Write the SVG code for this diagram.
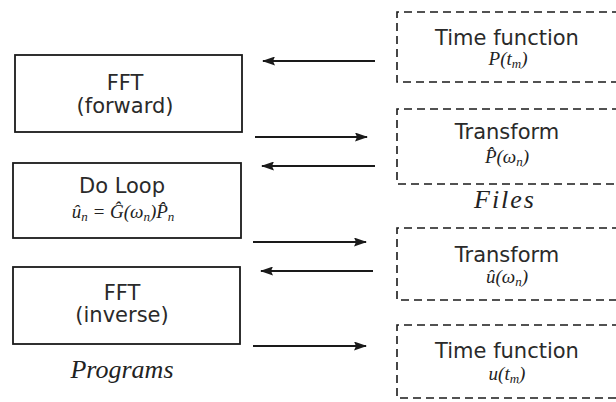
<svg xmlns="http://www.w3.org/2000/svg" width="616" height="402" viewBox="0 0 616 402">
<style>
.prog{fill:#fff;stroke:#1a1a1a;stroke-width:1.8}
.file{fill:none;stroke:#1a1a1a;stroke-width:1.6;stroke-dasharray:8 5}
.sans{font-family:"DejaVu Sans",Verdana,sans-serif;font-size:21px;fill:#2a2a2a;text-anchor:middle}
.math{font-family:"Liberation Serif","Times New Roman",serif;font-style:italic;font-size:19px;fill:#222;text-anchor:middle}
.sub{font-size:13px}
.lbl{font-family:"Liberation Serif","Times New Roman",serif;font-style:italic;font-size:26px;fill:#222;text-anchor:middle}
.arr{stroke:#1a1a1a;stroke-width:2;fill:none;marker-end:url(#ah)}
</style>
<defs>
<marker id="ah" viewBox="0 0 13 9" refX="12" refY="4.5" markerWidth="13" markerHeight="9" markerUnits="userSpaceOnUse" orient="auto">
<path d="M0,0 L13,4.5 L0,9 L2,4.5 Z" fill="#1a1a1a"/>
</marker>
</defs>
<g id="fft-forward">
<rect class="prog" x="15" y="55" width="227" height="77"/>
<text class="sans" x="125" y="90">FFT</text>
<text class="sans" x="125" y="113">(forward)</text>
</g>
<g id="do-loop">
<rect class="prog" x="13" y="163" width="228" height="75"/>
<text class="sans" x="122" y="193">Do Loop</text>
<text class="math" x="123" y="218">û<tspan class="sub" dy="3">n</tspan><tspan dy="-3"> = Ĝ(ω</tspan><tspan class="sub" dy="3">n</tspan><tspan dy="-3">)P̂</tspan><tspan class="sub" dy="3">n</tspan></text>
</g>
<g id="fft-inverse">
<rect class="prog" x="13" y="267" width="227" height="77"/>
<text class="sans" x="122" y="300">FFT</text>
<text class="sans" x="122" y="322">(inverse)</text>
</g>
<g id="label-programs">
<text class="lbl" x="122" y="378">Programs</text>
</g>
<g id="file-time-p">
<path class="file" d="M620,12 H397 V82 H620"/>
<text class="sans" x="507" y="45">Time function</text>
<text class="math" x="508" y="65">P(t<tspan class="sub" dy="3">m</tspan><tspan dy="-3">)</tspan></text>
</g>
<g id="file-transform-p">
<path class="file" d="M620,109 H397 V184 H620"/>
<text class="sans" x="507" y="139">Transform</text>
<text class="math" x="507" y="163">P̂(ω<tspan class="sub" dy="3">n</tspan><tspan dy="-3">)</tspan></text>
</g>
<g id="label-files">
<text class="lbl" x="505" y="208" letter-spacing="2">Files</text>
</g>
<g id="file-transform-u">
<path class="file" d="M620,228 H397 V300 H620"/>
<text class="sans" x="507" y="262">Transform</text>
<text class="math" x="507" y="283">û(ω<tspan class="sub" dy="3">n</tspan><tspan dy="-3">)</tspan></text>
</g>
<g id="file-time-u">
<path class="file" d="M620,325 H397 V398 H620"/>
<text class="sans" x="507" y="358">Time function</text>
<text class="math" x="507" y="380">u(t<tspan class="sub" dy="3">m</tspan><tspan dy="-3">)</tspan></text>
</g>
<g id="connectors">
<line class="arr" x1="375" y1="61" x2="263" y2="61"/>
<line class="arr" x1="255" y1="137" x2="367" y2="137"/>
<line class="arr" x1="375" y1="166" x2="262" y2="166"/>
<line class="arr" x1="253" y1="242" x2="366" y2="242"/>
<line class="arr" x1="373" y1="271" x2="261" y2="271"/>
<line class="arr" x1="253" y1="346" x2="366" y2="346"/>
</g>
</svg>
